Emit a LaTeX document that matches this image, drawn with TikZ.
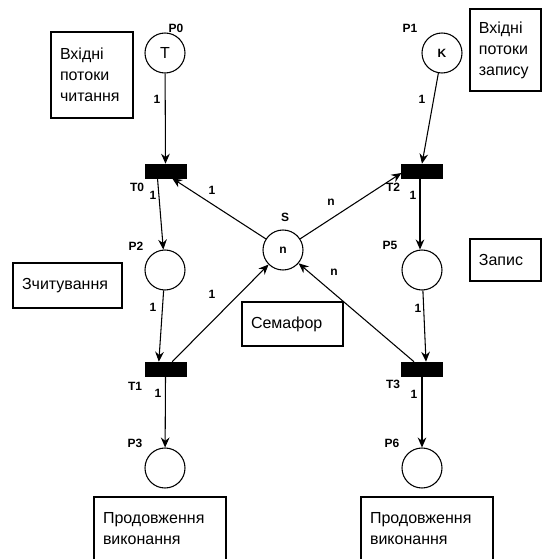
\documentclass[tikz,border=0pt]{standalone}
\usepackage{fontspec}
\setmainfont{Liberation Sans}
\usetikzlibrary{arrows.meta}

\begin{document}
\begin{tikzpicture}[x=0.75pt,y=-0.75pt,
  place/.style={draw, circle, line width=0.8pt, minimum size=30pt, inner sep=0pt, font=\fontsize{9}{10}\selectfont\bfseries},
  trans/.style={draw, fill=black, rectangle, minimum width=30.5pt, minimum height=10.5pt, inner sep=0pt},
  arc/.style={line width=0.8pt, -{Stealth[length=7.5pt,width=6.5pt,inset=2.5pt]}},
  tag/.style={font=\fontsize{9}{10}\selectfont\bfseries, inner sep=0pt},
  note/.style={draw, line width=0.8pt, rectangle, inner sep=0pt, align=left,
    font=\fontsize{12}{15.75}\selectfont},
]
\path[use as bounding box] (0,0) rectangle (542,559);
\clip (0,0) rectangle (542,559);

% places
\node[place] (P0) at (165,53) {\fontsize{12}{12}\selectfont\mdseries T};
\node[place] (P1) at (442,53) {K};
\node[place] (P2) at (165,270) {};
\node[place] (S)  at (283,250) {n};
\node[place] (P5) at (422,270) {};
\node[place] (P3) at (165,468) {};
\node[place] (P6) at (422,468) {};

% transitions
\node[trans] (T0) at (165.5,171) {};
\node[trans] (T2) at (422,171) {};
\node[trans] (T1) at (165.5,369) {};
\node[trans] (T3) at (422,369) {};

% names of places and transitions
\node[tag] (nP0) at (176,28) {P0};
\node[tag] (nP1) at (410,28) {P1};
\node[tag] (nT0) at (137,187) {T0};
\node[tag] (nT2) at (393,187) {T2};
\node[tag] (nS)  at (285,217) {S};
\node[tag] (nP2) at (136,246) {P2};
\node[tag] (nP5) at (390,245) {P5};
\node[tag] (nT1) at (135,386) {T1};
\node[tag] (nT3) at (393,384) {T3};
\node[tag] (nP3) at (135,443) {P3};
\node[tag] (nP6) at (392,443) {P6};

% arcs
\draw[arc] (P0) -- (T0.north);
\draw[arc] (P1) -- (T2.north);
\draw[arc] ([xshift=-6pt]T0.south) -- (P2);
\draw[arc] (P2) -- ([xshift=-5pt]T1.north);
\draw[arc] (T1.south) -- (P3);
\draw[arc] ([xshift=-1.5pt]T2.south) -- ([xshift=-1.5pt]P5.north);
\draw[arc] (P5) -- ([xshift=3pt]T3.north);
\draw[arc] (T3.south) -- (P6);
\draw[arc] (S) -- ([xshift=5pt]T0.south);
\draw[arc] ([xshift=5pt]T1.north) -- (S);
\draw[arc] (S) -- ([yshift=-1.5pt]T2.west);
\draw[arc] ([xshift=-6pt]T3.north) -- (S);

% arc weights
\node[tag] (w1) at (157,99) {1};
\node[tag] (w2) at (422,99) {1};
\node[tag] (w3) at (153,195) {1};
\node[tag] (w4) at (413,195) {1};
\node[tag] (w5) at (212,190) {1};
\node[tag] (w6) at (331,202) {n};
\node[tag] (w7) at (153,307) {1};
\node[tag] (w8) at (418,308) {1};
\node[tag] (w9) at (212,294) {1};
\node[tag] (w10) at (334,272) {n};
\node[tag] (w11) at (158,393) {1};
\node[tag] (w12) at (414,394) {1};

% notes
\node[note, minimum width=61.5pt, minimum height=64.5pt, text width=48pt] (bRead) at (92,75) {Вхідні\\потоки\\читання};
\node[note, minimum width=53.25pt, minimum height=61.5pt, text width=40pt] (bWrite) at (505.5,50) {Вхідні\\потоки\\запису};
\node[note, minimum width=81.75pt, minimum height=33.75pt, text width=68.25pt] (bScan) at (67.5,285.5) {Зчитування};
\node[note, minimum width=75.75pt, minimum height=33pt, text width=62.25pt] (bSem) at (292.5,324) {Семафор};
\node[note, minimum width=53.25pt, minimum height=31.5pt, text width=40pt] (bRec) at (505.5,260) {Запис};
\node[note, minimum width=99pt, minimum height=48pt, text width=85.5pt] (bCont1) at (160,529) {Продовження\\виконання};
\node[note, minimum width=99pt, minimum height=48pt, text width=85.5pt] (bCont2) at (427,529) {Продовження\\виконання};
\end{tikzpicture}
\end{document}
